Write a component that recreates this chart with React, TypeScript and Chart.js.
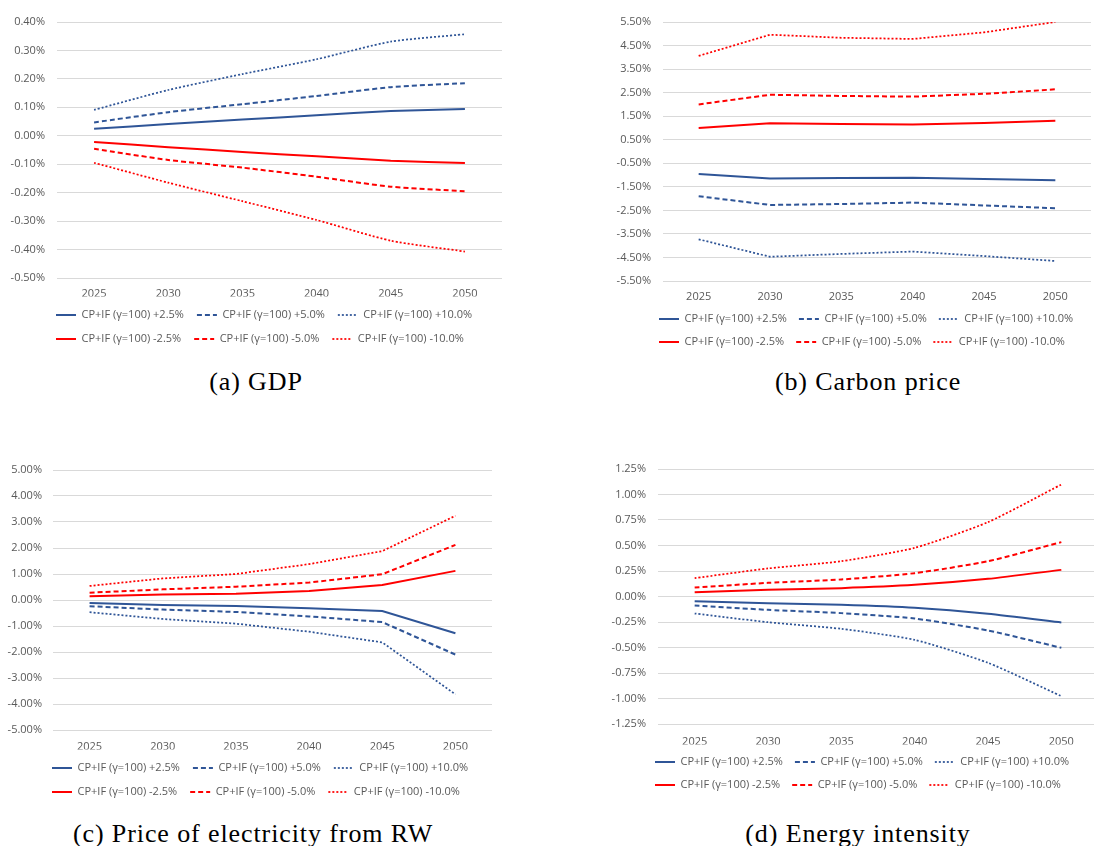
import React, { useEffect, useRef } from "react";
import { Chart, registerables } from "chart.js";

Chart.register(...registerables);

const years = ["2025", "2030", "2035", "2040", "2045", "2050"];
const seriesLabels = [
  "CP+IF (γ=100) +2.5%",
  "CP+IF (γ=100) +5.0%",
  "CP+IF (γ=100) +10.0%",
  "CP+IF (γ=100) -2.5%",
  "CP+IF (γ=100) -5.0%",
  "CP+IF (γ=100) -10.0%",
];

// (a) GDP, in %
const gdpPlus25 = [0.025, 0.041, 0.057, 0.072, 0.087, 0.094];
const gdpPlus50 = [0.047, 0.083, 0.111, 0.14, 0.171, 0.185];
const gdpPlus100 = [0.091, 0.161, 0.217, 0.269, 0.331, 0.357];
const gdpMinus25 = [-0.022, -0.04, -0.057, -0.072, -0.088, -0.096];
const gdpMinus50 = [-0.046, -0.085, -0.112, -0.144, -0.179, -0.195];
const gdpMinus100 = [-0.095, -0.165, -0.23, -0.296, -0.369, -0.407];

// (b) Carbon price, in %
const carbonPlus25 = [-0.96, -1.15, -1.13, -1.11, -1.17, -1.22];
const carbonPlus50 = [-1.9, -2.27, -2.23, -2.17, -2.29, -2.41];
const carbonPlus100 = [-3.73, -4.47, -4.35, -4.25, -4.44, -4.65];
const carbonMinus25 = [1.0, 1.2, 1.17, 1.15, 1.21, 1.31];
const carbonMinus50 = [2.0, 2.41, 2.36, 2.33, 2.45, 2.64];
const carbonMinus100 = [4.06, 4.96, 4.83, 4.78, 5.06, 5.5];

// (c) Price of electricity from RW, in %
const elecPlus25 = [-0.12, -0.19, -0.23, -0.32, -0.42, -1.28];
const elecPlus50 = [-0.24, -0.37, -0.46, -0.63, -0.85, -2.1];
const elecPlus100 = [-0.47, -0.73, -0.91, -1.22, -1.63, -3.63];
const elecMinus25 = [0.14, 0.21, 0.24, 0.35, 0.58, 1.12];
const elecMinus50 = [0.28, 0.41, 0.51, 0.67, 0.99, 2.12];
const elecMinus100 = [0.54, 0.83, 1.0, 1.38, 1.88, 3.24];

// (d) Energy intensity, in %
const energyPlus25 = [-0.046, -0.065, -0.082, -0.111, -0.17, -0.255];
const energyPlus50 = [-0.088, -0.131, -0.163, -0.216, -0.333, -0.503];
const energyPlus100 = [-0.167, -0.252, -0.317, -0.425, -0.65, -0.977];
const energyMinus25 = [0.042, 0.065, 0.082, 0.114, 0.173, 0.261];
const energyMinus50 = [0.088, 0.134, 0.167, 0.229, 0.346, 0.533];
const energyMinus100 = [0.18, 0.275, 0.346, 0.477, 0.729, 1.098];

const BLUE = "#2F5597";
const RED = "#FF0000";
const TEXT = "#595959";
const GRID = "#D9D9D9";
const FONT = '"Open Sans", sans-serif';

const styles = [
  { color: BLUE, dash: [], width: 2 },
  { color: BLUE, dash: [5, 3], width: 2 },
  { color: BLUE, dash: [2, 2], width: 1.75 },
  { color: RED, dash: [], width: 2 },
  { color: RED, dash: [5, 3], width: 2 },
  { color: RED, dash: [2, 2], width: 1.75 },
];

type PanelCfg = {
  left: number;
  top: number;
  width: number;
  height: number;
  pad: { left: number; right: number; top: number; bottom: number };
  yWidth: number;
  yPad: number;
  xHeight: number;
  xPad: number;
  legendPad: number;
  legendStart: number;
  min: number;
  max: number;
  step: number;
  series: number[][];
  tension: number;
};

const panels: PanelCfg[] = [
  {
    left: 0, top: 0, width: 502, height: 356,
    pad: { left: 0, right: 0, top: 22, bottom: 1.5 },
    yWidth: 57, yPad: 12, xHeight: 18.5, xPad: 9.4, legendPad: 13, legendStart: 56,
    min: -0.5, max: 0.4, step: 0.1,
    series: [gdpPlus25, gdpPlus50, gdpPlus100, gdpMinus25, gdpMinus50, gdpMinus100],
    tension: 0.2,
  },
  {
    left: 600, top: 0, width: 491, height: 358,
    pad: { left: 0, right: 0, top: 22, bottom: 0.5 },
    yWidth: 63, yPad: 12, xHeight: 20.5, xPad: 9.4, legendPad: 12, legendStart: 59,
    min: -5.5, max: 5.5, step: 1,
    series: [carbonPlus25, carbonPlus50, carbonPlus100, carbonMinus25, carbonMinus50, carbonMinus100],
    tension: 0,
  },
  {
    left: 0, top: 440, width: 492, height: 368,
    pad: { left: 0, right: 0, top: 30, bottom: 0.5 },
    yWidth: 53, yPad: 11, xHeight: 19.5, xPad: 10.4, legendPad: 13, legendStart: 52,
    min: -5, max: 5, step: 1,
    series: [elecPlus25, elecPlus50, elecPlus100, elecMinus25, elecMinus50, elecMinus100],
    tension: 0,
  },
  {
    left: 600, top: 430, width: 498, height: 371,
    pad: { left: 0, right: 0, top: 39, bottom: 0.5 },
    yWidth: 58, yPad: 12, xHeight: 20.5, xPad: 11.4, legendPad: 12, legendStart: 55,
    min: -1.25, max: 1.25, step: 0.25,
    series: [energyPlus25, energyPlus50, energyPlus100, energyMinus25, energyMinus50, energyMinus100],
    tension: 0.2,
  },
];

const captions = [
  { text: "(a) GDP", cx: 256, cy: 382 },
  { text: "(b) Carbon price", cx: 868, cy: 382 },
  { text: "(c) Price of electricity from RW", cx: 253, cy: 834 },
  { text: "(d) Energy intensity", cx: 858, cy: 834 },
];

function Panel({ cfg }: { cfg: PanelCfg }) {
  const ref = useRef<HTMLCanvasElement | null>(null);
  useEffect(() => {
    if (!ref.current) return;
    const legendShift = {
      id: "legendShift",
      afterLayout(chart: any) {
        const lg = chart.legend;
        if (!lg) return;
        lg.left = cfg.legendStart - cfg.legendPad;
        lg.right = chart.width;
        lg.width = lg.right - lg.left;
      },
    };
    const chart = new Chart(ref.current, {
      type: "line",
      data: {
        labels: years,
        datasets: cfg.series.map((vals, i) => ({
          label: seriesLabels[i],
          data: vals,
          borderColor: styles[i].color,
          backgroundColor: styles[i].color,
          borderWidth: styles[i].width,
          borderDash: styles[i].dash,
          borderCapStyle: "butt",
          pointRadius: 0,
          pointHoverRadius: 0,
          tension: cfg.tension,
          fill: false,
        })),
      },
      options: {
        responsive: false,
        maintainAspectRatio: false,
        animation: false,
        layout: { padding: cfg.pad },
        plugins: {
          tooltip: { enabled: false },
          title: { display: false },
          legend: {
            display: true,
            position: "bottom",
            align: "start",
            labels: {
              usePointStyle: true,
              pointStyle: "line",
              pointStyleWidth: 20,
              padding: cfg.legendPad,
              color: TEXT,
              font: { family: FONT, size: 11 },
              generateLabels: (ch: any) =>
                ch.data.datasets.map((ds: any, i: number) => ({
                  text: ds.label,
                  strokeStyle: ds.borderColor,
                  fillStyle: ds.borderColor,
                  lineWidth: ds.borderWidth,
                  lineDash: ds.borderDash,
                  lineCap: "butt",
                  pointStyle: "line",
                  fontColor: TEXT,
                  hidden: false,
                  datasetIndex: i,
                })),
            },
          },
        },
        scales: {
          x: {
            type: "category",
            offset: true,
            grid: { display: false, drawTicks: false },
            border: { display: false },
            ticks: {
              color: TEXT,
              font: { family: FONT, size: 11 },
              padding: cfg.xPad,
              maxRotation: 0,
              autoSkip: false,
            },
            afterFit: (scale: any) => {
              scale.height = cfg.xHeight;
            },
          },
          y: {
            type: "linear",
            min: cfg.min,
            max: cfg.max,
            grid: { color: GRID, lineWidth: 1, drawTicks: false },
            border: { display: false },
            ticks: {
              stepSize: cfg.step,
              color: TEXT,
              font: { family: FONT, size: 11 },
              padding: cfg.yPad,
              callback: (v: any) => Number(v).toFixed(2) + "%",
            },
            afterFit: (scale: any) => {
              scale.width = cfg.yWidth;
            },
          },
        },
      },
      plugins: [legendShift],
    } as any);
    return () => chart.destroy();
  }, [cfg]);
  return (
    <canvas
      ref={ref}
      width={cfg.width}
      height={cfg.height}
      style={{
        position: "absolute",
        left: cfg.left,
        top: cfg.top,
        width: cfg.width,
        height: cfg.height,
      }}
    />
  );
}

export default function App() {
  return (
    <div
      style={{
        position: "absolute",
        left: 0,
        top: 0,
        width: 1094,
        height: 846,
        overflow: "hidden",
        background: "#ffffff",
      }}
    >
      {panels.map((p, i) => (
        <Panel key={i} cfg={p} />
      ))}
      {captions.map((c, i) => (
        <div
          key={"c" + i}
          style={{
            position: "absolute",
            left: c.cx - 250,
            top: c.cy - 15,
            width: 500,
            height: 30,
            lineHeight: "30px",
            textAlign: "center",
            fontFamily: '"Liberation Serif", serif',
            fontSize: 26,
            letterSpacing: "0.9px",
            color: "#000000",
            whiteSpace: "nowrap",
          }}
        >
          {c.text}
        </div>
      ))}
    </div>
  );
}
